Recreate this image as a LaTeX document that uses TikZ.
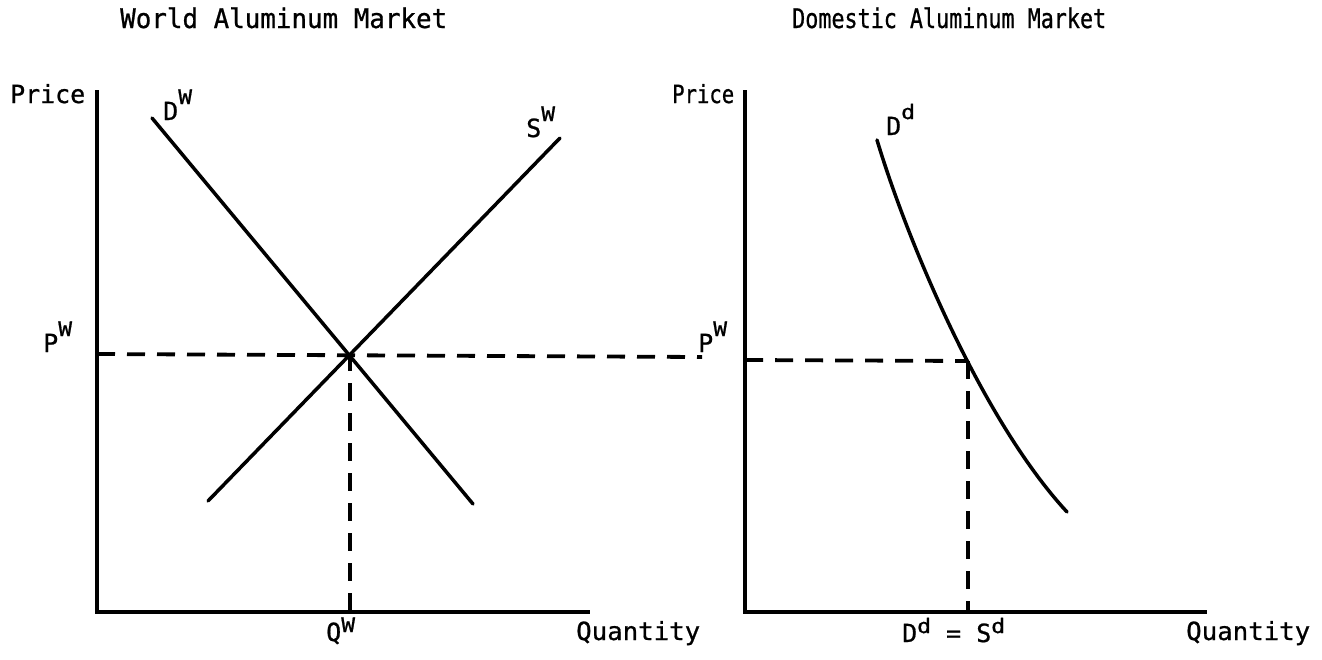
\documentclass[tikz,border=0pt]{standalone}
\usepackage{fontspec}
\setmainfont{DejaVu Sans Mono}[FakeBold=0.8]
\usepackage{graphicx}
\newcommand\hi[1]{\raisebox{16pt}{\fontsize{20}{20}\selectfont\scalebox{1.15}[1]{#1}}}
\newcommand\lo[1]{\raisebox{9pt}{\fontsize{20}{20}\selectfont\scalebox{1.15}[1]{#1}}}
\newcommand\fw[2]{\resizebox{#1pt}{\height}{#2}}
\begin{document}
\begin{tikzpicture}[x=1pt,y=-1pt,
  axis/.style={line width=4pt, line join=miter},
  curve/.style={line width=3.5pt, line cap=round},
  guide/.style={line width=3.8pt, dash pattern=on 18pt off 12pt},
  lab/.style={inner sep=0pt, anchor=base west, font=\fontsize{25}{25}\selectfont},
  ttl/.style={inner sep=0pt, anchor=base west, font=\fontsize{27}{27}\selectfont}]
\useasboundingbox[fill=white] (0,0) rectangle (1322,659);
% left panel
\coordinate (LT) at (97,90);
\coordinate (LO) at (97,612);
\coordinate (LR) at (590,612);
\coordinate (DW1) at (152,118);
\coordinate (DW2) at (473,504);
\coordinate (SW1) at (208,501);
\coordinate (SW2) at (560,138);
\coordinate (E) at (350,353);
\coordinate (HL) at (97,354);
\coordinate (HR) at (702,357);
\coordinate (QB) at (350,612);
% right panel
\coordinate (RT) at (745,90);
\coordinate (RO) at (745,612);
\coordinate (RR) at (1207,612);
\coordinate (RP) at (745,360);
\coordinate (F) at (968,361);
\coordinate (FB) at (968,612);
\coordinate (DD1) at (877,140);
\coordinate (DD2) at (1067,512);

\draw[guide] (HL) -- (HR);
\draw[guide] (E) -- (QB);
\draw[guide] (RP) -- (F);
\draw[guide] (F) -- (FB);

\draw[axis] (LT) -- (LO) -- (LR);
\draw[axis] (RT) -- (RO) -- (RR);
\draw[curve] (DW1) -- (DW2);
\draw[curve] (SW1) -- (SW2);
\draw[curve] (DD1) .. controls (907,240) and (982,420) .. (DD2);

\node[ttl] (t1) at (120,28) {\fw{327}{World Aluminum Market}};
\node[ttl] (t2) at (792,28) {\fw{314}{Domestic Aluminum Market}};
\node[lab] (p1) at (10,103) {\fw{75}{Price}};
\node[lab] (p2) at (672,103) {\fw{62}{Price}};
\node[lab] (dw) at (163,120) {D\hi{W}};
\node[lab] (sw) at (526,137) {S\hi{W}};
\node[lab] (pw1) at (43,352) {P\hi{W}};
\node[lab] (pw2) at (698,352) {P\hi{W}};
\node[lab] (dd) at (886,135) {D\hi{d}};
\node[lab] (qw) at (326,641) {Q\lo{W}};
\node[lab] (eq) at (902,642) {D\lo{d} = S\lo{d}};
\node[lab] (q1) at (576,640) {\fw{124}{Quantity}};
\node[lab] (q2) at (1186,640) {\fw{124}{Quantity}};
\end{tikzpicture}
\end{document}
